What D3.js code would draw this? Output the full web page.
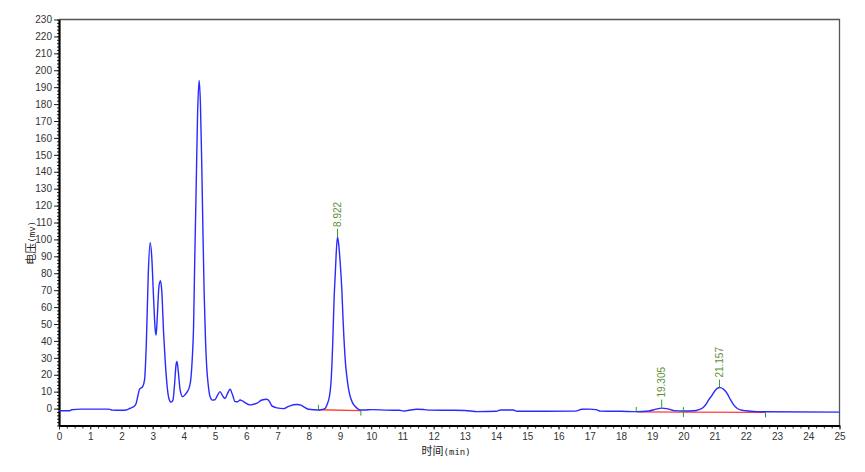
<!DOCTYPE html>
<html>
<head>
  <meta charset="utf-8">
  <title>色谱图</title>
  <style>
    body{
      background-color:#fff;
      margin: 0;
      padding: 0;
    }
    .chart{
      display: block;
    }
    .tick text{
      font-family: "Liberation Sans", Arial, sans-serif;
      font-size: 10px;
      fill: #333;
    }
  </style>
</head>
<body>
<svg class="chart"></svg>

<script src="https://d3js.org/d3.v7.min.js"></script>
<script>

// signal (time in min, voltage in mV)
var times = [0.0, 0.35, 0.4, 0.72, 1.6, 1.7, 2.0, 2.15, 2.28, 2.4, 2.47, 2.52, 2.58, 2.68, 2.74, 2.8, 2.86, 2.92, 2.97, 3.03,
  3.08, 3.11, 3.15, 3.2, 3.25, 3.29, 3.35, 3.4, 3.47, 3.52, 3.59, 3.65, 3.7, 3.75, 3.78, 3.82, 3.88, 3.96, 4.05, 4.11,
  4.18, 4.22, 4.27, 4.31, 4.35, 4.39, 4.44, 4.49, 4.53, 4.57, 4.61, 4.65, 4.69, 4.73, 4.78, 4.84, 4.92, 5.0, 5.08, 5.16,
  5.24, 5.32, 5.4, 5.48, 5.56, 5.64, 5.72, 5.8, 5.88, 5.96, 6.12, 6.34, 6.5, 6.66, 6.75, 6.82, 6.98, 7.19, 7.3, 7.4,
  7.62, 7.75, 7.83, 7.99, 8.31, 8.45, 8.53, 8.6, 8.66, 8.71, 8.74, 8.77, 8.81, 8.85, 8.88, 8.92, 8.96, 9.0, 9.06, 9.1,
  9.13, 9.18, 9.22, 9.28, 9.33, 9.4, 9.49, 9.57, 9.65, 9.8, 10.0, 10.5, 10.9, 11.04, 11.2, 11.46, 11.7, 11.9, 12.5, 13.0,
  13.4, 14.0, 14.15, 14.55, 14.67, 15.5, 16.55, 16.75, 17.0, 17.2, 17.34, 18.0, 18.5, 18.9, 19.1, 19.3, 19.5, 19.7, 20.0, 20.33,
  20.5, 20.6, 20.7, 20.81, 20.92, 21.03, 21.12, 21.19, 21.28, 21.4, 21.5, 21.61, 21.72, 21.83, 22.0, 22.36, 22.6, 25.0];
var volts = [-1.3, -1.3, -0.7, -0.3, -0.3, -0.9, -1.0, -0.8, 0.2, 1.2, 3, 7, 11.5, 13, 17, 40, 80, 98, 90, 65,
  47, 43.5, 55, 72, 75.6, 70, 45, 28.8, 12, 6, 3.8, 5, 14, 26, 27.8, 22, 11, 7, 8.5, 10,
  13, 17, 30, 48, 90, 127, 175, 194, 180, 147, 105, 68, 42, 25, 14, 7, 5, 5.3, 8, 10,
  7.5, 6, 9, 11.4, 8, 4.1, 4, 5.1, 4.5, 3.5, 2.2, 3.2, 5.1, 5.5, 4, 1.6, 0.4, 0, 0.8, 1.6,
  2.4, 2, 1.2, -0.4, -0.8, -0.5, 0.2, 3, 7, 15, 25, 40, 64, 80, 92, 101.5, 97, 88, 70, 52,
  40.6, 26, 18.9, 11, 7, 3.5, 1.2, -0.2, -0.8, -0.8, -0.6, -0.9, -1.0, -1.5, -1.0, -0.4, -0.6, -0.9, -1.0, -1.1,
  -1.8, -1.6, -0.8, -0.8, -1.6, -1.6, -1.5, -0.4, -0.3, -0.6, -1.5, -1.6, -1.8, -1.4, -0.5, 0.3, -0.2, -1.2, -1.4, -1.3,
  -0.6, 0.2, 2, 5.1, 8, 11, 12.3, 12.4, 11.5, 9, 5.5, 2.2, 0.2, -0.8, -1.3, -1.8, -1.9, -2.1];

// integrated peaks
var peakTimes = [8.922, 19.305, 21.157];
var peakVolts = [101.5, 0.6, 12.4];
var peakLabels = ["8.922", "19.305", "21.157"];

// baselines drawn under the peaks: start/end time and voltage
var baseStart = [8.31, 18.49, 20.0];
var baseStartV = [-0.7, -2.0, -2.1];
var baseEnd = [9.67, 20.0, 22.63];
var baseEndV = [-1.2, -2.1, -2.3];

// peak boundary markers: time, voltage, direction (1 up, -1 down, 0 both)
var markTimes = [8.31, 9.67, 18.49, 20.0, 22.63];
var markVolts = [-0.7, -1.2, -2.0, -2.1, -2.3];
var markDirs = [1, -1, 1, 0, -1];

var xTicks = d3.range(0, 26, 1);
var yTicks = d3.range(0, 240, 10);

var W = 865, H = 472;
var margin = {top: 19.5, right: 25.5, bottom: 46.5, left: 59},
    width = W - margin.left - margin.right,
    height = H - margin.top - margin.bottom;

var x = d3.scaleLinear().domain([0, 25]).range([0, width]);
var y = d3.scaleLinear().domain([-10, 230]).range([height, 0]);

var svg = d3.select('.chart')
    .attr("width", W)
    .attr("height", H)
    .append("g")
    .attr("transform", "translate(" + margin.left + "," + margin.top + ")");

// frame top / right
svg.append("path")
    .attr("d", "M0,0H" + width + "V" + height)
    .attr("fill", "none")
    .attr("stroke", "#555")
    .attr("stroke-width", 1.3);

// minor ticks
svg.append("g")
    .attr("transform", "translate(0," + height + ")")
    .call(d3.axisBottom(x).tickValues(d3.range(0, 25.01, 0.25)).tickSize(3).tickFormat(""))
    .call(function(g){ g.select(".domain").remove(); g.selectAll("line").attr("stroke", "#222"); });
svg.append("g")
    .call(d3.axisLeft(y).tickValues(d3.range(-10, 230.01, 2)).tickSize(2).tickFormat(""))
    .call(function(g){ g.select(".domain").remove(); g.selectAll("line").attr("stroke", "#222"); });

// axis bottom
svg.append("g")
    .attr("transform", "translate(0," + height + ")")
    .call(d3.axisBottom(x).tickValues(xTicks).tickSize(4).tickSizeOuter(0).tickPadding(3))
    .call(function(g){
      g.select(".domain").attr("stroke", "#000").attr("stroke-width", 2.2);
      g.selectAll(".tick line").attr("stroke", "#222");
    });

// axis left
svg.append("g")
    .call(d3.axisLeft(y).tickValues(yTicks).tickSize(5).tickSizeOuter(0).tickPadding(2))
    .call(function(g){
      g.select(".domain").attr("stroke", "#000").attr("stroke-width", 2.2);
      g.selectAll(".tick line").attr("stroke", "#222");
    });

// baselines
svg.selectAll(".base")
    .data(baseStart)
    .enter().append("line")
    .attr("class", "base")
    .attr("x1", function(d) { return x(d); })
    .attr("y1", function(d, i) { return y(baseStartV[i]); })
    .attr("x2", function(d, i) { return x(baseEnd[i]); })
    .attr("y2", function(d, i) { return y(baseEndV[i]); })
    .attr("stroke", "#ff3b3b")
    .attr("stroke-width", 1.3);

// signal
var pts = times.map(function(t, i) { return [t, volts[i]]; });
svg.append("path")
    .datum(pts)
    .attr("fill", "none")
    .attr("stroke", "#2a2aff")
    .attr("stroke-width", 1.4)
    .attr("d", d3.line()
      .curve(d3.curveMonotoneX)
      .x(function(d) { return x(d[0]); })
      .y(function(d) { return y(d[1]); }));

// boundary marks
svg.selectAll(".mark")
    .data(markTimes)
    .enter().append("line")
    .attr("class", "mark")
    .attr("x1", function(d) { return x(d); })
    .attr("x2", function(d) { return x(d); })
    .attr("y1", function(d, i) { return y(markVolts[i]) - (markDirs[i] >= 0 ? 5 : 0); })
    .attr("y2", function(d, i) { return y(markVolts[i]) + (markDirs[i] <= 0 ? 5 : 0); })
    .attr("stroke", "#2e9a2e")
    .attr("stroke-width", 1);

// peak ticks and labels
svg.selectAll(".ptick")
    .data(peakTimes)
    .enter().append("line")
    .attr("class", "ptick")
    .attr("x1", function(d) { return x(d); })
    .attr("x2", function(d) { return x(d); })
    .attr("y1", function(d, i) { return y(peakVolts[i]); })
    .attr("y2", function(d, i) { return y(peakVolts[i]) - 8; })
    .attr("stroke", "#2e9a2e")
    .attr("stroke-width", 1);

svg.selectAll(".plabel")
    .data(peakTimes)
    .enter().append("text")
    .attr("class", "plabel")
    .attr("transform", function(d, i) {
      return "translate(" + (x(d) + 3.5) + "," + (y(peakVolts[i]) - 10) + ") rotate(-90)";
    })
    .style("font-family", "'Liberation Sans', Arial, sans-serif")
    .style("font-size", "10px")
    .attr("fill", "#5f8f3a")
    .text(function(d, i) { return peakLabels[i]; });

// axis titles
svg.append("text")
    .attr("x", x(12.4))
    .attr("y", height + 29)
    .attr("text-anchor", "middle")
    .style("font-family", "'Noto Sans CJK SC', sans-serif")
    .style("font-size", "11px")
    .attr("fill", "#222")
    .html("时间<tspan style=\"font-family:'DejaVu Sans Mono',monospace;font-size:9px\">(min)</tspan>");

svg.append("text")
    .attr("transform", "translate(-24," + y(98) + ") rotate(-90)")
    .attr("text-anchor", "middle")
    .style("font-family", "'Noto Sans CJK SC', sans-serif")
    .style("font-size", "11px")
    .attr("fill", "#222")
    .html("电压<tspan style=\"font-family:'DejaVu Sans Mono',monospace;font-size:9px\">(mv)</tspan>");

</script>
</body>
</html>
